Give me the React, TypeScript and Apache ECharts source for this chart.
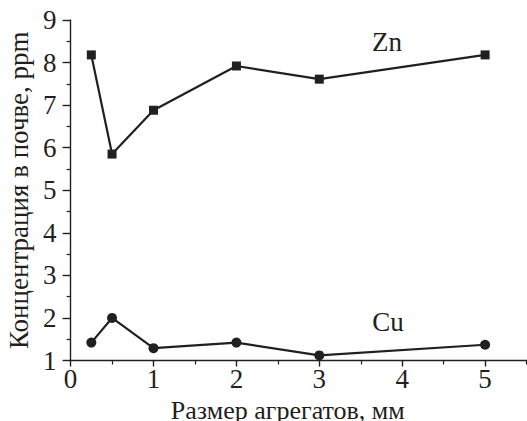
import React, { useEffect, useRef } from "react";
import * as echarts from "echarts";

// Aggregate size, mm
const sizes = [0.25, 0.5, 1, 2, 3, 5];
// Concentration in soil, ppm
const znValues = [8.18, 5.85, 6.88, 7.92, 7.61, 8.18];
const cuValues = [1.42, 2.0, 1.29, 1.42, 1.12, 1.37];

const INK = "#231f20";
const FONT = "Liberation Serif, serif";
const SIZE = 27;

export default function App() {
  const ref = useRef<HTMLDivElement>(null);

  useEffect(() => {
    if (!ref.current) return;
    const chart = echarts.init(ref.current, undefined, { renderer: "svg" });

    const axisCommon = {
      axisLine: { show: true, lineStyle: { color: INK, width: 1.4 } },
      splitLine: { show: false },
      minorTick: { show: true, splitNumber: 2, length: 4, lineStyle: { color: INK, width: 1.2 } },
    };
    const textStyle = { color: INK, fontFamily: FONT, fontSize: SIZE };

    chart.setOption({
      animation: false,
      backgroundColor: "#ffffff",
      textStyle: { fontFamily: FONT },
      // the canvas is wider than its frame, so the x-axis is cut off at 5.5
      grid: {
        left: 70.6,
        right: 0,
        top: 20,
        bottom: 60.5,
        containLabel: false,
        outerBoundsMode: "none",
      },
      xAxis: {
        type: "value",
        min: 0,
        max: 6,
        interval: 1,
        ...axisCommon,
        axisTick: { show: true, inside: false, length: 6, lineStyle: { color: INK, width: 1.4 } },
        axisLabel: { ...textStyle, margin: 5, showMaxLabel: false },
        name: "Размер агрегатов, мм",
        nameLocation: "middle",
        nameGap: 23,
        nameTextStyle: { ...textStyle, fontSize: 26, lineHeight: 26, padding: [0, 63, 0, 0] },
      },
      yAxis: {
        type: "value",
        min: 1,
        max: 9,
        interval: 1,
        ...axisCommon,
        axisTick: { show: true, inside: false, length: 8, lineStyle: { color: INK, width: 1.4 } },
        axisLabel: { ...textStyle, margin: 14 },
        name: "Концентрация в почве, ppm",
        nameLocation: "middle",
        nameGap: 25,
        nameTextStyle: textStyle,
      },
      series: [
        {
          name: "Zn",
          type: "line",
          data: sizes.map((x, i) => [x, znValues[i]]),
          symbol: "rect",
          symbolSize: 9,
          lineStyle: { color: INK, width: 2.2 },
          itemStyle: { color: INK },
        },
        {
          name: "Cu",
          type: "line",
          data: sizes.map((x, i) => [x, cuValues[i]]),
          symbol: "circle",
          symbolSize: 10,
          lineStyle: { color: INK, width: 2.2 },
          itemStyle: { color: INK },
        },
      ],
      graphic: [
        {
          type: "text",
          x: 387,
          y: 42,
          style: { text: "Zn", fill: INK, fontFamily: FONT, fontSize: SIZE, align: "center", verticalAlign: "middle" },
        },
        {
          type: "text",
          x: 388,
          y: 322,
          style: { text: "Cu", fill: INK, fontFamily: FONT, fontSize: SIZE, align: "center", verticalAlign: "middle" },
        },
      ],
    });

    return () => chart.dispose();
  }, []);

  return (
    <div style={{ position: "absolute", left: 0, top: 0, width: 527, height: 421, overflow: "hidden", background: "#fff" }}>
      <div ref={ref} style={{ width: 568, height: 421 }} />
    </div>
  );
}
